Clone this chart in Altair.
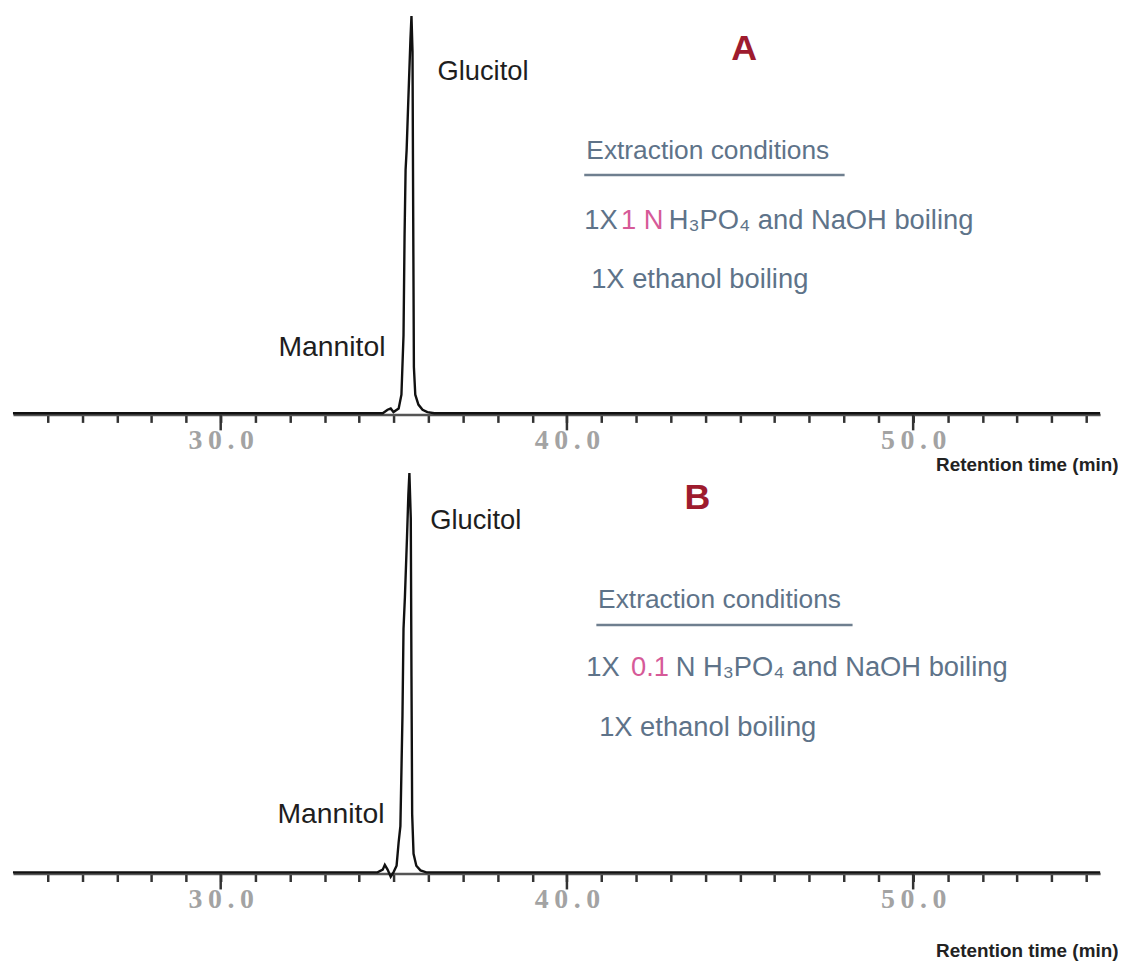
import altair as alt
import pandas as pd

# ---------------- data ----------------
# Panel A chromatogram (retention time in min, relative detector signal)
a_time = [24.0, 28.0, 32.0, 34.68, 34.82, 34.91, 34.99, 35.14, 35.22, 35.28, 35.31, 35.34,
          35.37, 35.42, 35.48, 35.51, 35.54, 35.56, 35.58, 35.62, 35.71, 35.83, 35.97, 36.17,
          40.0, 46.0, 55.4]
a_signal = [0.3, 0.3, 0.3, 0.3, 1.2, 1.5, 0.6, 1.5, 5, 20, 45, 62,
            67, 80, 95, 101, 92, 50, 12, 5, 2.5, 1.2, 0.6, 0.3,
            0.3, 0.3, 0.3]

# Panel B chromatogram
b_time = [24.0, 28.0, 32.0, 34.53, 34.68, 34.74, 34.82, 34.91, 34.99, 35.08, 35.14, 35.19,
          35.25, 35.28, 35.32, 35.38, 35.42, 35.45, 35.49, 35.51, 35.53, 35.57, 35.65, 35.77,
          35.94, 40.0, 46.0, 55.4]
b_signal = [0.3, 0.3, 0.3, 0.3, 1.0, 2.2, 1.0, -0.8, 0.3, 2, 8, 12,
            40, 62, 70, 85, 96, 101.5, 90, 50, 15, 5, 2, 0.8,
            0.3, 0.3, 0.3, 0.3]

minor_ticks = list(range(25, 56))
major_ticks = [30, 40, 50]
x_domain = [24.0, 55.4]

panel_letters = ["A", "B"]
peak_names = ["Glucitol", "Mannitol"]
heading = "Extraction conditions"
acid_conc = ["1 N", "0.1"]
acid_prefix = "1X"
acid_rest = ["H₃PO₄ and  NaOH boiling", "N H₃PO₄ and  NaOH boiling"]
ethanol_line = "1X ethanol boiling"
axis_title = "Retention time (min)"

# annotation anchors in data units (min, signal)
ann = {
    "A": dict(letter=(45.12, 92.7), gluc=(36.26, 86.9), mann=(34.76, 17.1),
              head=(40.56, 66.8), under=(40.50, 48.02, 60.7),
              l2=(40.50, 41.56, 42.94, 49.1), l3=(40.70, 34.0), titleY=50),
    "B": dict(letter=(43.77, 95.2), gluc=(36.05, 89.4), mann=(34.73, 15.1),
              head=(40.90, 69.3), under=(40.85, 48.25, 63.0),
              l2=(40.56, 41.85, 43.14, 52.1), l3=(40.93, 37.0), titleY=77),
}

W, H = 1094, 397
SANS = "Liberation Sans"
BLUEGREY = "#5e7389"
PINK = "#d65a98"
DARKRED = "#9e1b2e"


def panel(idx, times, signal):
    key = panel_letters[idx]
    a = ann[key]
    X = alt.X(
        "t:Q",
        scale=alt.Scale(domain=x_domain, nice=False, zero=False),
        axis=alt.Axis(
            values=minor_ticks, tickSize=8, tickWidth=2.5, tickColor="#333333",
            domainColor="#555555", domainWidth=2.5, grid=False,
            labelExpr="datum.value % 10 == 0 ? format(datum.value / 10, 'd') + '\u2009' + '0' + '\u2009' + '.' + '\u2009' + '0' : ''",
            labelFont="Liberation Serif", labelFontSize=28, labelFontWeight="bold",
            labelColor="#a3a3a3", labelPadding=4, labelFlush=False, labelOverlap=False,
            title=axis_title, titleFont=SANS, titleFontSize=19, titleFontWeight="bold",
            titleColor="#222222", titleAlign="right", titleBaseline="middle",
            titleX=1112, titleY=a["titleY"],
        ),
    )
    Y = alt.Y("v:Q", scale=alt.Scale(domain=[0, 100]), axis=None)

    sig = pd.DataFrame({"t": times, "v": signal})
    line = alt.Chart(sig).mark_line(color="#111111", strokeWidth=2.4).encode(x=X, y=Y)

    majors = alt.Chart(pd.DataFrame({"t": major_ticks})).mark_rule(
        color="#333333", strokeWidth=2.5).encode(x=X, y=alt.value(H), y2=alt.value(H + 16))

    def txt(text, pos, **kw):
        d = pd.DataFrame({"t": [pos[0]], "v": [pos[1]], "label": [text]})
        return alt.Chart(d).mark_text(baseline="middle", **kw).encode(x=X, y=Y, text="label:N")

    letter = txt(key, a["letter"], font=SANS, fontSize=36, fontWeight="bold",
                 color=DARKRED, align="center")
    gluc = txt(peak_names[0], a["gluc"], font=SANS, fontSize=27.5, color="#1e1e1e", align="left")
    mann = txt(peak_names[1], a["mann"], font=SANS, fontSize=28.5, color="#1e1e1e", align="right")
    head = txt(heading, a["head"], font=SANS, fontSize=26.5, color=BLUEGREY, align="left")
    ux0, ux1, uy = a["under"]
    under = alt.Chart(pd.DataFrame({"t": [ux0], "t2": [ux1], "v": [uy]})).mark_rule(
        color="#6f7f8f", strokeWidth=2.5).encode(x=X, x2="t2:Q", y=Y)
    x0, x1, x2, y2 = a["l2"]
    s1 = txt(acid_prefix, (x0, y2), font=SANS, fontSize=27.5, color=BLUEGREY, align="left")
    s2 = txt(acid_conc[idx], (x1, y2), font=SANS, fontSize=27.5, color=PINK, align="left")
    s3 = txt(acid_rest[idx], (x2, y2), font=SANS, fontSize=27.5, color=BLUEGREY, align="left")
    l3 = txt(ethanol_line, a["l3"], font=SANS, fontSize=27.5, color=BLUEGREY, align="left")

    return alt.layer(line, majors, under, letter, gluc, mann, head, s1, s2, s3, l3).properties(
        width=W, height=H)


chart = alt.vconcat(
    panel(0, a_time, a_signal),
    panel(1, b_time, b_signal),
    spacing=65,
    bounds="flush",
).properties(padding=0).configure_view(stroke=None)

chart.save("out.html", embed_options={"renderer": "svg", "actions": False})
